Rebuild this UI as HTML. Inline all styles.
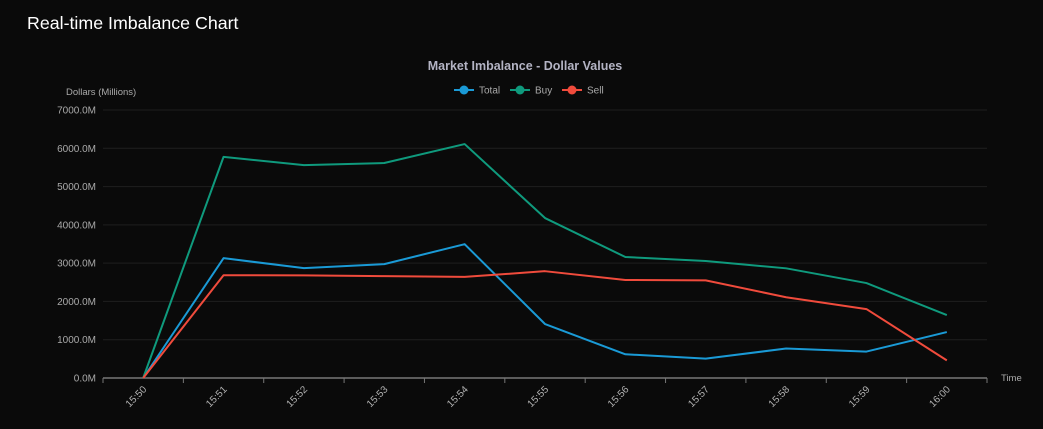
<!DOCTYPE html>
<html><head><meta charset="utf-8"><style>
body{margin:0;background:#0a0a0a;width:1043px;height:429px;overflow:hidden;font-family:"Liberation Sans",sans-serif}
#t{position:absolute;left:27px;top:13px;color:#fff;font-size:17.8px}
svg{position:absolute;left:0;top:0}
</style></head><body>
<div id="t">Real-time Imbalance Chart</div>
<svg id="c" width="1043" height="429"></svg>
<script>
const categories=["15:50","15:51","15:52","15:53","15:54","15:55","15:56","15:57","15:58","15:59","16:00"];
const totalValues=[0,3130,2870,2975,3495,1410,620,505,770,690,1200];
const buyValues=[0,5775,5560,5615,6110,4178,3160,3055,2865,2480,1645];
const sellValues=[0,2685,2680,2660,2640,2790,2560,2550,2110,1800,460];
const yTicks=[0,1000,2000,3000,4000,5000,6000,7000];
const NS="http://www.w3.org/2000/svg",svg=document.getElementById('c');
const x0=103,x1=987,yB=378,yT=110,yMax=7000;
const bw=(x1-x0)/categories.length;
const X=i=>x0+bw*(i+0.5), Y=v=>yB-(v/yMax)*(yB-yT);
function el(t,a,p){const e=document.createElementNS(NS,t);for(const k in a)e.setAttribute(k,a[k]);(p||svg).appendChild(e);return e;}
yTicks.forEach(v=>{
 const g=el('line',{x1:x0,x2:x1,y1:Y(v),y2:Y(v),stroke:'#1f1f1f','stroke-width':1});
 
 
 const t=el('text',{x:96,y:Y(v)+3.5,'text-anchor':'end',fill:'#aaa','font-size':'10'});
 t.textContent=v.toFixed(1)+'M';
 
 
});
const ax=el('line',{x1:x0,x2:x1,y1:yB,y2:yB,stroke:'#777','stroke-width':1.5});


for(let i=0;i<=categories.length;i++){const tk=el('line',{x1:x0+bw*i,x2:x0+bw*i,y1:yB,y2:yB+5,stroke:'#777'});

}
categories.forEach((c,i)=>{
 const t=el('text',{x:0,y:0,'text-anchor':'end',fill:'#b0b0b0','font-size':'10',transform:`translate(${X(i)+4},${yB+12}) rotate(-45)`});
 t.textContent=c;
 
 
});
const series=[["total",totalValues,"#1a9ad6"],["buy",buyValues,"#0f9a7d"],["sell",sellValues,"#f04b3c"]];
series.forEach(([n,vals,col])=>{
 const p=el('polyline',{points:vals.map((v,i)=>X(i)+','+Y(v)).join(' '),fill:'none',stroke:col,'stroke-width':2,'stroke-linejoin':'round'});
 
 
});
const ct=el('text',{x:525,y:70,'text-anchor':'middle',fill:'#b4b4c4','font-size':'12.5','font-weight':'bold'});
ct.textContent='Market Imbalance - Dollar Values';


const yt=el('text',{x:66,y:95,fill:'#aaa','font-size':'9.5'});
yt.textContent='Dollars (Millions)';


const xt=el('text',{x:1001,y:381,fill:'#aaa','font-size':'9.5'});
xt.textContent='Time';


const leg=[["Total",454,"#1a9ad6"],["Buy",510,"#0f9a7d"],["Sell",562,"#f04b3c"]];
leg.forEach(([n,lx,col])=>{
 const g=el('g',{});
 
 
 el('line',{x1:lx,x2:lx+20,y1:90,y2:90,stroke:col,'stroke-width':2},g);
 el('circle',{cx:lx+10,cy:90,r:4.5,fill:col},g);
 const t=el('text',{x:lx+25,y:93.5,fill:'#aaa','font-size':'10'},g);t.textContent=n;
});
</script>
</body></html>
